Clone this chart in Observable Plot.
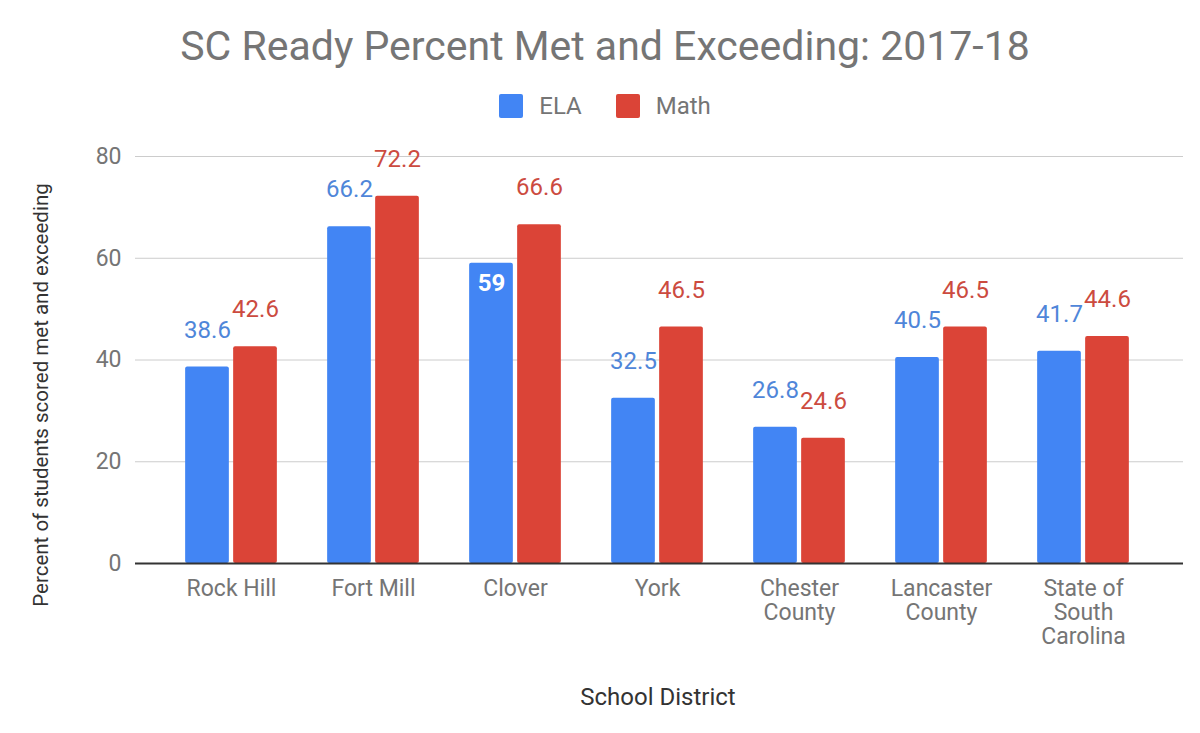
<!DOCTYPE html>
<html><head><meta charset="utf-8">
<script src="https://cdn.jsdelivr.net/npm/d3@7"></script>
<script src="https://cdn.jsdelivr.net/npm/@observablehq/plot@0.6"></script>
<style>
body{margin:0;background:#fff;font-family:Roboto,sans-serif;}
#wrap{position:relative;width:1200px;height:733px;overflow:hidden;}
#chart{position:absolute;left:0;top:0;}
.abs{position:absolute;color:#757575;white-space:nowrap;line-height:1;}
#title{left:0;width:1210px;top:26px;text-align:center;font-size:41px;}
#legend{left:0;width:1210px;top:94px;height:24px;display:flex;justify-content:center;align-items:center;font-size:24px;}
#legend .sw{display:inline-block;width:24px;height:24px;border-radius:2px;margin-right:16px;}
#legend .item{display:flex;align-items:center;margin:0 17px;}
#xlabel{left:658px;top:697px;transform:translate(-50%,-50%);font-size:24px;color:#333;}
#ylabel{left:41px;top:395px;transform:translate(-50%,-50%) rotate(-90deg);font-size:20.5px;color:#333;}
</style></head><body>
<div id="wrap">
  <div id="chart"></div>
  <div id="title" class="abs"></div>
  <div id="legend" class="abs"></div>
  <div id="xlabel" class="abs"></div>
  <div id="ylabel" class="abs"></div>
</div>
<script>
// ---- data ----
const titleText = "SC Ready Percent Met and Exceeding: 2017-18";
const xTitle = "School District";
const yTitle = "Percent of students scored met and exceeding";
const districts = ["Rock Hill","Fort Mill","Clover","York","Chester County","Lancaster County","State of South Carolina"];
const districtLabels = ["Rock Hill","Fort Mill","Clover","York","Chester\nCounty","Lancaster\nCounty","State of\nSouth\nCarolina"];
const series = ["ELA","Math"];
const seriesColors = ["#4285f4","#db4437"];
const labelColors = ["#4f86d9","#cc4b3f"];
const elaValues = [38.6,66.2,59,32.5,26.8,40.5,41.7];
const mathValues = [42.6,72.2,66.6,46.5,24.6,46.5,44.6];
const yTicks = [0,20,40,60,80];
const labelsInside = ["Clover|ELA"];

// ---- layout ----
const W = 1200, H = 733;
const mL = 135, mR = 17, mT = 156, mB = 170;
const xInsetL = 24, xInsetR = 28;
const band = (W - mL - mR - xInsetL - xInsetR) / districts.length;
const barW = 44, gap = 4;
const outer = (band - 2 * barW - gap) / 2;
const shift = (barW + gap) / 2;

const rows = [];
districts.forEach((d, i) => {
  rows.push({district: d, series: "ELA", value: elaValues[i]});
  rows.push({district: d, series: "Math", value: mathValues[i]});
});
const isInside = r => labelsInside.includes(r.district + "|" + r.series);
const ela = rows.filter(r => r.series === "ELA");
const math = rows.filter(r => r.series === "Math");

const chart = Plot.plot({
  width: W, height: H,
  marginLeft: mL, marginRight: mR, marginTop: mT, marginBottom: mB,
  style: {fontFamily: "Roboto, sans-serif", fontSize: "24px", color: "#757575", background: "transparent"},
  x: {domain: districts, padding: 0, insetLeft: xInsetL, insetRight: xInsetR, axis: null},
  y: {domain: [0, 80], axis: null},
  marks: [
    Plot.ruleY(yTicks.filter(d => d > 0), {stroke: "#cccccc", strokeWidth: 1}),
    Plot.axisY({ticks: yTicks, tickSize: 0, tickPadding: 14, label: null, fontSize: 23}),
    Plot.axisX({tickSize: 0, tickPadding: 15, label: null, fontSize: 23, lineHeight: 1.05,
      tickFormat: d => districtLabels[districts.indexOf(d)]}),
    Plot.barY(ela, {x: "district", y: "value", fill: seriesColors[0], rx: 2,
      insetLeft: outer, insetRight: outer + barW + gap}),
    Plot.barY(math, {x: "district", y: "value", fill: seriesColors[1], rx: 2,
      insetLeft: outer + barW + gap, insetRight: outer}),
    Plot.ruleY([0], {stroke: "#333333", strokeWidth: 2}),
    Plot.text(ela.filter(r => !isInside(r)), {x: "district", y: "value", text: d => String(d.value),
      dx: -shift, dy: -37, lineAnchor: "middle", fill: labelColors[0], fontSize: 24}),
    Plot.text(math.filter(r => !isInside(r)), {x: "district", y: "value", text: d => String(d.value),
      dx: shift, dy: -37, lineAnchor: "middle", fill: labelColors[1], fontSize: 24}),
    Plot.text(ela.filter(isInside), {x: "district", y: "value", text: d => String(d.value),
      dx: -shift, dy: 20, lineAnchor: "middle", fill: "white", fontWeight: "bold", fontSize: 24}),
    Plot.text(math.filter(isInside), {x: "district", y: "value", text: d => String(d.value),
      dx: shift, dy: 20, lineAnchor: "middle", fill: "white", fontWeight: "bold", fontSize: 24})
  ]
});
document.getElementById("chart").appendChild(chart);
document.getElementById("title").textContent = titleText;
document.getElementById("xlabel").textContent = xTitle;
document.getElementById("ylabel").textContent = yTitle;
const lg = document.getElementById("legend");
series.forEach((s, i) => {
  const item = document.createElement("span");
  item.className = "item";
  const sw = document.createElement("span");
  sw.className = "sw";
  sw.style.background = seriesColors[i];
  item.appendChild(sw);
  item.appendChild(document.createTextNode(s));
  lg.appendChild(item);
});
</script>
</body></html>
